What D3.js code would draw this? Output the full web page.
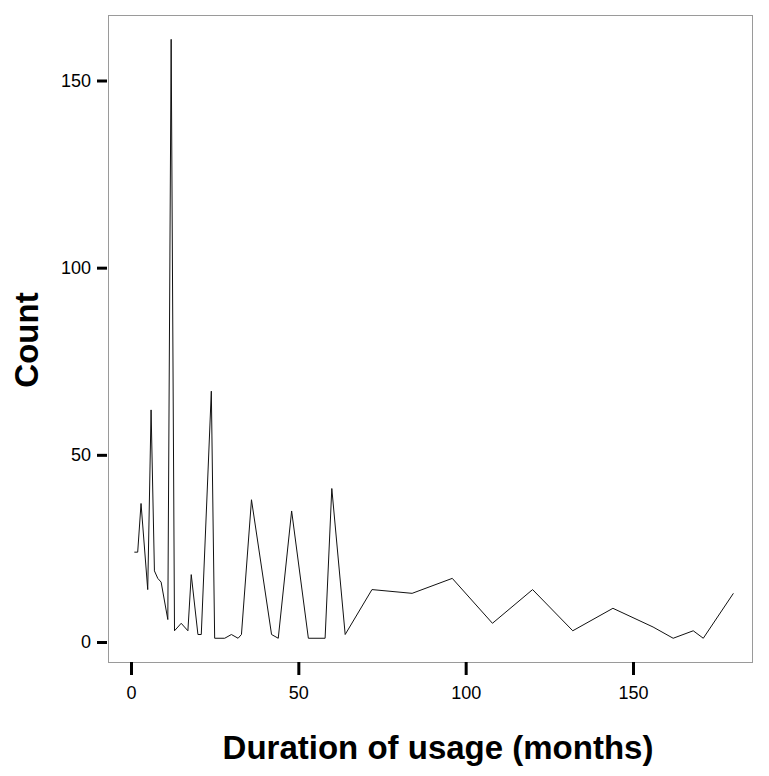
<!DOCTYPE html>
<meta charset="utf-8">
<title>Duration of usage</title>
<style>
body {
  margin: 0;
  background: #fff;
}
text {
  font-family: "Liberation Sans", Arial, sans-serif;
}
</style>
<body>
<script src="https://cdnjs.cloudflare.com/ajax/libs/d3/7.8.5/d3.min.js"></script>
<script>
// months of usage and how many respondents
var months = [1, 2, 3, 5, 6, 7, 8, 9, 11, 12, 13, 15, 17, 18, 20, 21, 24, 25, 28, 30, 32, 33, 36, 42, 44, 48, 53, 58, 60, 64, 72, 84, 96, 108, 120, 132, 144, 156, 162, 168, 171, 180];
var counts = [24, 24, 37, 14, 62, 19, 17, 16, 6, 161, 3, 5, 3, 18, 2, 2, 67, 1, 1, 2, 1, 2, 38, 2, 1, 35, 1, 1, 41, 2, 14, 13, 17, 5, 14, 3, 9, 4, 1, 3, 1, 13];
var xTicks = [0, 50, 100, 150];
var yTicks = [0, 50, 100, 150];

var w = 769,
    h = 776;

var frame = {left: 108.5, right: 752.5, top: 15.5, bottom: 662.5};

var x = d3.scaleLinear().domain([0, 150]).range([131, 633]);
var y = d3.scaleLinear().domain([0, 150]).range([642, 80.5]);

var svg = d3.select("body").append("svg")
    .attr("width", w)
    .attr("height", h);

svg.append("rect")
    .attr("x", frame.left)
    .attr("y", frame.top)
    .attr("width", frame.right - frame.left)
    .attr("height", frame.bottom - frame.top)
    .style("fill", "none")
    .style("stroke", "#9a9a9a")
    .style("stroke-width", 1);

var data = months.map(function(m, i) { return [m, counts[i]]; });

svg.append("path")
    .datum(data)
    .attr("d", d3.line()
        .x(function(d) { return x(d[0]); })
        .y(function(d) { return y(d[1]); }))
    .style("fill", "none")
    .style("stroke", "#111")
    .style("stroke-width", 1);

// y axis
var yAxis = svg.append("g")
    .attr("transform", "translate(" + (frame.left - 1.5) + ",0)")
    .call(d3.axisLeft(y).tickValues(yTicks).tickSize(10).tickPadding(6));
yAxis.select(".domain").remove();
yAxis.selectAll(".tick line").style("stroke", "#000").style("stroke-width", 3);
yAxis.selectAll(".tick text")
    .style("font-size", "18px")
    .style("fill", "#000");

// x axis
var xAxis = svg.append("g")
    .attr("transform", "translate(0," + (frame.bottom - 0.5) + ")")
    .call(d3.axisBottom(x).tickValues(xTicks).tickSize(13).tickPadding(11));
xAxis.select(".domain").remove();
xAxis.selectAll(".tick line").style("stroke", "#000").style("stroke-width", 3);
xAxis.selectAll(".tick text")
    .style("font-size", "18px")
    .style("fill", "#000");

svg.append("text")
    .attr("x", 438)
    .attr("y", 759)
    .attr("text-anchor", "middle")
    .style("font-size", "33px")
    .style("font-weight", "bold")
    .text("Duration of usage (months)");

svg.append("text")
    .attr("transform", "translate(38,340) rotate(-90)")
    .attr("text-anchor", "middle")
    .style("font-size", "33px")
    .style("font-weight", "bold")
    .text("Count");
</script>
